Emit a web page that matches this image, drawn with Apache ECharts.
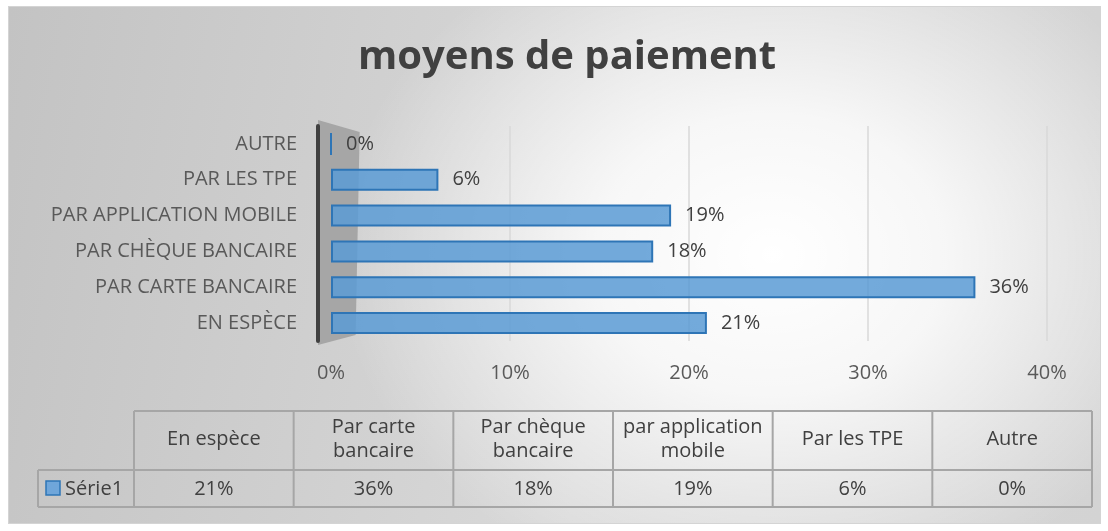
<!DOCTYPE html>
<html>
<head>
<meta charset="utf-8">
<script src="https://cdn.jsdelivr.net/npm/echarts@6/dist/echarts.min.js"></script>
<style>
  html, body { margin: 0; padding: 0; background: #ffffff; }
  #frame {
    position: absolute; left: 8px; top: 6px; width: 1091px; height: 516px;
    border: 1px solid #d4d4d4;
    background:
      radial-gradient(ellipse 40% 68% at 70% 48%, rgba(255,255,255,1) 0%, rgba(255,255,255,0.8) 40%, rgba(255,255,255,0) 100%),
      linear-gradient(100deg, #c3c3c3 0%, #d9d9d9 55%, #d3d3d3 100%);
  }
  #chart { position: absolute; left: 0; top: 0; width: 1108px; height: 531px; }
</style>
</head>
<body>
<div id="frame"></div>
<div id="chart"></div>
<script>
// -----------------------------------------------------------------------------
// moyens de paiement - barres horizontales + tableau de donnees
// -----------------------------------------------------------------------------
const title = "moyens de paiement";
const seriesName = "Série1";
// ordre du bas vers le haut (axe des categories)
const categories = ["EN ESPÈCE", "PAR CARTE BANCAIRE", "PAR CHÈQUE BANCAIRE", "PAR APPLICATION MOBILE", "PAR LES TPE", "AUTRE"];
const tableHeaders = ["En espèce", "Par carte\nbancaire", "Par chèque\nbancaire", "par application\nmobile", "Par les TPE", "Autre"];
const values = [0.21, 0.36, 0.18, 0.19, 0.06, 0];
const xTicks = [0, 0.1, 0.2, 0.3, 0.4];

const FONT = "'Open Sans', Lato, sans-serif";
const TXT = "#404040";
const pct = (v) => Math.round(v * 100) + "%";

const chart = echarts.init(document.getElementById("chart"), null, { renderer: "canvas" });

function txt(text, x, y, align, extra) {
  return {
    type: "text", x, y, silent: true,
    style: Object.assign({ text, fill: TXT, fontSize: 20, fontFamily: FONT, align, verticalAlign: "middle" }, extra || {})
  };
}

// Tableau de donnees sous le graphique
function buildTable() {
  const left = 134, right = 1092, labelLeft = 38;
  const top = 411, mid = 470, bottom = 507;
  const colW = (right - left) / tableHeaders.length;
  const line = { stroke: "#a6a6a6", lineWidth: 2 };
  const els = [];
  const addLine = (x1, y1, x2, y2) => els.push({ type: "line", shape: { x1, y1, x2, y2 }, style: line, silent: true });

  addLine(left, top, right, top);
  addLine(labelLeft, mid, right, mid);
  addLine(labelLeft, bottom, right, bottom);
  addLine(labelLeft, mid, labelLeft, bottom);
  for (let i = 0; i <= tableHeaders.length; i += 1) {
    addLine(left + i * colW, top, left + i * colW, bottom);
  }

  tableHeaders.forEach((h, i) => {
    const cx = left + colW * (i + 0.5);
    els.push(txt(h, cx, (top + mid) / 2 - 1, "center", { lineHeight: 24 }));
    els.push(txt(pct(values[i]), cx, (mid + bottom) / 2 + 1, "center"));
  });

  // cle de legende + nom de la serie
  els.push({ type: "rect", silent: true, shape: { x: 46, y: 481, width: 14, height: 14 }, style: { fill: "#6fa6da", stroke: "#2e75b6", lineWidth: 1.5 } });
  els.push(txt(seriesName, 65, (mid + bottom) / 2 + 1, "left"));
  return els;
}

chart.setOption({
  animation: false,
  backgroundColor: "transparent",
  textStyle: { fontFamily: FONT },
  title: {
    text: title,
    left: 353,
    top: 33,
    textStyle: { fontSize: 40, fontWeight: "bold", color: TXT, fontFamily: FONT }
  },
  grid: { left: 331, right: 61, top: 126, bottom: 190, containLabel: false },
  xAxis: {
    type: "value",
    min: xTicks[0],
    max: xTicks[xTicks.length - 1],
    interval: 0.1,
    axisLine: { show: false },
    axisTick: { show: false },
    axisLabel: { formatter: (v) => pct(v), fontSize: 20, color: "#595959", margin: 22 },
    splitLine: { showMinLine: false, lineStyle: { color: "#d9d9d9", width: 1.5 } }
  },
  yAxis: {
    type: "category",
    data: categories,
    offset: 13,
    z: 2,
    axisLine: { show: true, onZero: false, lineStyle: { color: "#404040", width: 4 } },
    axisTick: { show: false },
    axisLabel: { fontSize: 20, color: "#595959", margin: 21 }
  },
  series: [{
    name: seriesName,
    type: "bar",
    data: values,
    barWidth: 22,
    z: 3,
    itemStyle: {
      color: "rgba(91,155,213,0.85)",
      borderColor: "#2e75b6",
      borderWidth: 2
    },
    label: {
      show: true,
      position: "right",
      distance: 14,
      formatter: (p) => pct(p.value),
      fontSize: 20,
      color: TXT
    }
  }],
  graphic: buildTable()
});

// paroi laterale grise (decor 3D) derriere le debut des barres
const x0 = chart.convertToPixel({ xAxisIndex: 0 }, 0);
const xw = chart.convertToPixel({ xAxisIndex: 0 }, 0.016);
const yTop = chart.convertToPixel({ yAxisIndex: 0 }, categories.length - 1) - 18;
const yBot = chart.convertToPixel({ yAxisIndex: 0 }, 0) + 18;
chart.setOption({
  graphic: buildTable().concat([{
    type: "polygon", silent: true, z: -1,
    shape: { points: [[x0 - 13, yTop - 6], [xw, yTop + 6], [xw - 4, yBot - 6], [x0 - 13, yBot + 4]] },
    style: { fill: "#a6a6a6" }
  }])
});
</script>
</body>
</html>
